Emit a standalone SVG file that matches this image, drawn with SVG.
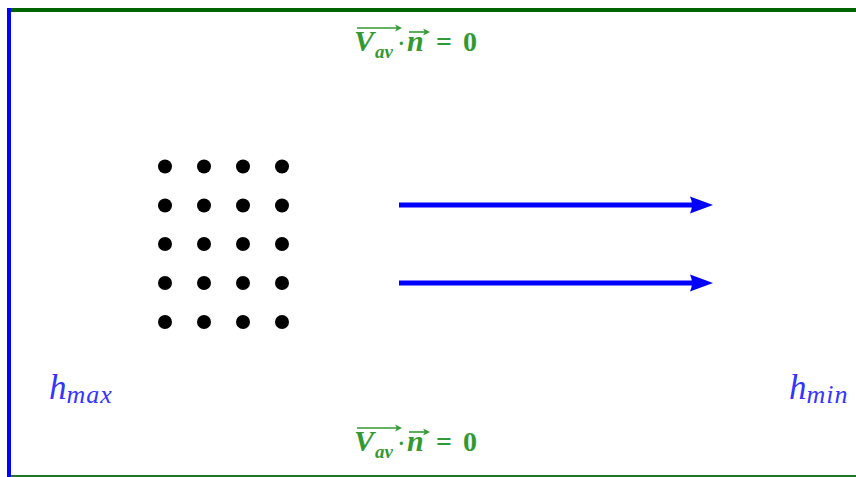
<svg xmlns="http://www.w3.org/2000/svg" width="856" height="477" viewBox="0 0 856 477">
<style>
.g{fill:#339933;font-family:"Liberation Serif",serif;font-weight:bold}
.gi{font-style:italic}
.h{fill:#3535ff;font-family:"Liberation Serif",serif;font-style:italic}
.dot{fill:#000}
.flow{stroke:#0000ff;stroke-width:5;fill:none}
.va{stroke:#339933;stroke-width:1.6;fill:none}
</style>
<defs>
<marker id="ah" viewBox="0 0 24 18" refX="2" refY="9" markerWidth="24" markerHeight="18" markerUnits="userSpaceOnUse" orient="auto">
<path d="M23,9 L0,0.5 Q4,9 0,17.5 Z" fill="#0000ff"/>
</marker>
<marker id="sa" viewBox="0 0 8 8" refX="6" refY="4" markerWidth="8" markerHeight="8" markerUnits="userSpaceOnUse" orient="auto">
<path d="M8,4 L1,0.5 L3,4 L1,7.5 Z" fill="#339933"/>
</marker>
</defs>
<rect width="856" height="477" fill="#fff"/>
<g id="frame">
<line x1="8" y1="10" x2="856" y2="10" stroke="#006400" stroke-width="4"/>
<line x1="856" y1="476" x2="8" y2="476" stroke="#227722" stroke-width="2"/>
<line x1="9" y1="8" x2="9" y2="477" stroke="#0000ff" stroke-width="4"/>
</g>
<g id="dots">
<circle class="dot" cx="165" cy="166.5" r="7"/><circle class="dot" cx="204" cy="166.5" r="7"/><circle class="dot" cx="243" cy="166.5" r="7"/><circle class="dot" cx="282" cy="166.5" r="7"/>
<circle class="dot" cx="165" cy="205.5" r="7"/><circle class="dot" cx="204" cy="205.5" r="7"/><circle class="dot" cx="243" cy="205.5" r="7"/><circle class="dot" cx="282" cy="205.5" r="7"/>
<circle class="dot" cx="165" cy="244" r="7"/><circle class="dot" cx="204" cy="244" r="7"/><circle class="dot" cx="243" cy="244" r="7"/><circle class="dot" cx="282" cy="244" r="7"/>
<circle class="dot" cx="165" cy="283" r="7"/><circle class="dot" cx="204" cy="283" r="7"/><circle class="dot" cx="243" cy="283" r="7"/><circle class="dot" cx="282" cy="283" r="7"/>
<circle class="dot" cx="165" cy="322" r="7"/><circle class="dot" cx="204" cy="322" r="7"/><circle class="dot" cx="243" cy="322" r="7"/><circle class="dot" cx="282" cy="322" r="7"/>
</g>
<g id="connectors">
<line class="flow" x1="399" y1="205" x2="692" y2="205" marker-end="url(#ah)"/>
<line class="flow" x1="399" y1="283" x2="692" y2="283" marker-end="url(#ah)"/>
</g>
<g id="label-top">
<text class="g gi" x="354" y="51" font-size="30">V</text>
<text class="g gi" x="375" y="58" font-size="19">av</text>
<text class="g" x="398" y="50" font-size="20">·</text>
<text class="g gi" x="407" y="51" font-size="30">n</text>
<text class="g" x="436" y="51" font-size="28">=</text>
<text class="g" x="463" y="51" font-size="28">0</text>
<line class="va" x1="357" y1="28" x2="400" y2="28" marker-end="url(#sa)"/>
<line class="va" x1="409" y1="32" x2="428" y2="32" marker-end="url(#sa)"/>
</g>
<g id="label-bottom">
<text class="g gi" x="354" y="451" font-size="30">V</text>
<text class="g gi" x="375" y="458" font-size="19">av</text>
<text class="g" x="398" y="450" font-size="20">·</text>
<text class="g gi" x="407" y="451" font-size="30">n</text>
<text class="g" x="436" y="451" font-size="28">=</text>
<text class="g" x="463" y="451" font-size="28">0</text>
<line class="va" x1="357" y1="428" x2="400" y2="428" marker-end="url(#sa)"/>
<line class="va" x1="409" y1="432" x2="428" y2="432" marker-end="url(#sa)"/>
</g>
<g id="hmax">
<text class="h" x="49" y="399" font-size="35">h<tspan font-size="26" dy="4" letter-spacing="1">max</tspan></text>
</g>
<g id="hmin">
<text class="h" x="789" y="399" font-size="35">h<tspan font-size="26" dy="4" letter-spacing="1">min</tspan></text>
</g>
</svg>
